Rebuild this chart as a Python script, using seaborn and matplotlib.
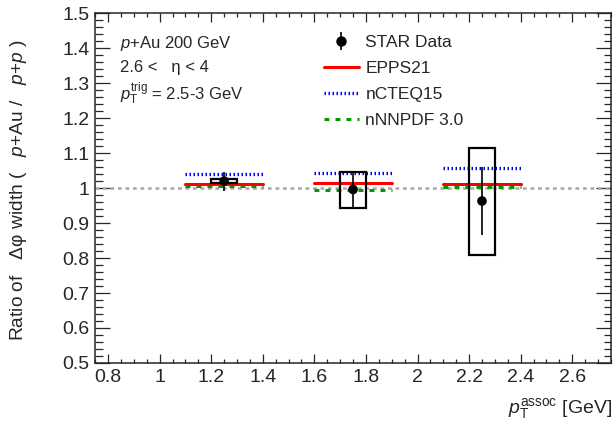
import matplotlib
matplotlib.use("Agg")
import matplotlib.pyplot as plt
import matplotlib.ticker as mticker
from matplotlib.lines import Line2D
from matplotlib.patches import Rectangle
import pandas as pd
import seaborn as sns

# STAR data points
pt_assoc = [1.25, 1.75, 2.25]
ratio = [1.020, 0.996, 0.963]
stat_err = [0.027, 0.050, 0.097]
sys_lo = [0.006, 0.054, 0.153]
sys_hi = [0.006, 0.051, 0.151]

# model bins and predictions
bin_lo = [1.1, 1.6, 2.1]
bin_hi = [1.4, 1.9, 2.4]
epps21 = [1.013, 1.015, 1.013]
ncteq15 = [1.040, 1.044, 1.056]
nnnpdf30 = [1.005, 0.994, 1.002]
model_names = ["EPPS21", "nCTEQ15", "nNNPDF 3.0"]

sns.set_style("ticks")
plt.rcParams["font.family"] = ["Liberation Sans", "DejaVu Sans"]
plt.rcParams["mathtext.fontset"] = "custom"
plt.rcParams["mathtext.rm"] = "Liberation Sans"
plt.rcParams["mathtext.it"] = "Liberation Sans:italic"

rows = []
for name, vals in zip(model_names, [epps21, ncteq15, nnnpdf30]):
    for i, v in enumerate(vals):
        rows.append({"model": name, "bin": i, "pt": bin_lo[i], "ratio": v})
        rows.append({"model": name, "bin": i, "pt": bin_hi[i], "ratio": v})
models = pd.DataFrame(rows)

fig = plt.figure(figsize=(6.14, 4.26), dpi=100)
ax = fig.add_axes([0.155, 0.148, 0.840, 0.821])

ax.axhline(1.0, color="#a8a8a8", lw=1.8, linestyle=(0, (1.5, 1.5)), zorder=1)

styles = {
    "EPPS21": dict(color="#ff0000", lw=2.2, linestyle="-"),
    "nCTEQ15": dict(color="#0000ff", lw=2.4, linestyle=(0, (0.45, 0.75))),
    "nNNPDF 3.0": dict(color="#009a00", lw=2.2, linestyle=(0, (1.6, 2.0))),
}
handles = {}
for name in ["nCTEQ15", "nNNPDF 3.0", "EPPS21"]:
    sub = models[models.model == name]
    sns.lineplot(data=sub, x="pt", y="ratio", units="bin", estimator=None,
                 ax=ax, legend=False, zorder=2, **styles[name])
    handles[name] = Line2D([], [], **styles[name])

# systematic boxes
for x, y, lo, hi in zip(pt_assoc, ratio, sys_lo, sys_hi):
    ax.add_patch(Rectangle((x - 0.05, y - lo), 0.1, lo + hi, fill=False,
                           edgecolor="black", lw=1.6, zorder=4))

ax.errorbar(pt_assoc, ratio, yerr=stat_err, fmt="none", ecolor="black",
            elinewidth=1.2, capsize=0, zorder=5)
sns.scatterplot(x=pt_assoc, y=ratio, color="black", s=48, edgecolor="none",
                ax=ax, zorder=6)

ax.set_xlim(0.75, 2.75)
ax.set_ylim(0.5, 1.5)
ax.xaxis.set_major_locator(mticker.MultipleLocator(0.2))
ax.xaxis.set_minor_locator(mticker.MultipleLocator(0.05))
ax.yaxis.set_major_locator(mticker.MultipleLocator(0.1))
ax.yaxis.set_minor_locator(mticker.MultipleLocator(0.02))
fmt = mticker.FuncFormatter(lambda v, p: "%g" % round(v, 3))
ax.xaxis.set_major_formatter(fmt)
ax.yaxis.set_major_formatter(fmt)
ax.tick_params(axis="both", which="both", direction="in", top=True, right=True,
               width=0.9, labelsize=14)
ax.tick_params(axis="x", which="major", length=6.5, pad=4)
ax.tick_params(axis="x", which="minor", length=3.2)
ax.tick_params(axis="y", which="major", length=10.8, pad=4)
ax.tick_params(axis="y", which="minor", length=5.4)
for s in ax.spines.values():
    s.set_linewidth(1.1)
ax.set_xlabel("")
ax.set_ylabel("")

fig.text(0.997, 0.042, r"$p_{\mathrm{T}}^{\mathrm{assoc}}$ [GeV]", ha="right",
         va="center", fontsize=14)
fig.text(0.03, 0.554, "Ratio of   \u0394\u03c6 width (   $p$+Au /   $p$+$p$ )",
         rotation=90, ha="center", va="center", fontsize=13.8)

ax.text(0.048, 0.914, "$p$+Au 200 GeV", transform=ax.transAxes, fontsize=12,
        va="center")
ax.text(0.048, 0.845, "2.6 <   \u03b7 < 4", transform=ax.transAxes, fontsize=12,
        va="center")
ax.text(0.048, 0.77, r"$p_{\mathrm{T}}^{\mathrm{trig}}$ = 2.5-3 GeV",
        transform=ax.transAxes, fontsize=12, va="center")

star = (Line2D([], [], marker="o", ls="none", color="black", ms=6.5),
        Line2D([], [], marker="|", ls="none", color="black", ms=13, mew=1.2))
leg = ax.legend([star] + [handles[n] for n in model_names],
                ["STAR Data"] + model_names, loc="upper left",
                bbox_to_anchor=(0.413, 0.983), frameon=False, fontsize=12.5,
                handlelength=2.0, handletextpad=0.4, labelspacing=0.63)

fig.savefig("out.png", dpi=100)
